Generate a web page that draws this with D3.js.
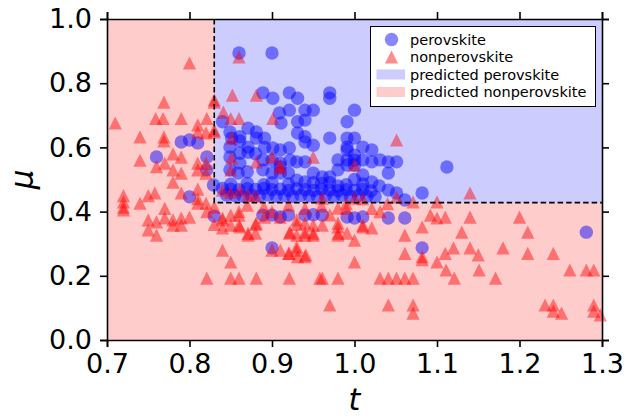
<!DOCTYPE html>
<html><head><meta charset="utf-8">
<script src="https://cdn.jsdelivr.net/npm/d3@7"></script>
<style>body{margin:0;background:#fff}svg{display:block}text{font-family:"DejaVu Sans",sans-serif}</style>
</head><body><svg id="c" width="626" height="418"></svg>
<script>
const xTicks = [0.7, 0.8, 0.9, 1.0, 1.1, 1.2, 1.3];
const yTicks = [0.0, 0.2, 0.4, 0.6, 0.8, 1.0];
const boundaryT = 0.83, boundaryMu = 0.428;
const legendLabels = ["perovskite", "nonperovskite", "predicted perovskite", "predicted nonperovskite"];

const perovskite = [
[0.860,0.894],[0.900,0.894],
[0.889,0.770],[0.901,0.753],[0.921,0.770],[0.931,0.753],[0.921,0.716],[0.940,0.716],[0.950,0.716],[0.909,0.707],
[0.911,0.676],[0.931,0.680],[0.940,0.685],[0.931,0.645],[0.940,0.633],[0.940,0.617],
[0.970,0.770],[0.970,0.753],[1.000,0.716],[0.991,0.680],[0.970,0.629],[0.991,0.629],[1.000,0.629],[0.991,0.601],[1.010,0.601],[1.021,0.592],[0.950,0.607],
[0.840,0.680],[0.849,0.648],[0.851,0.629],[0.861,0.633],[0.871,0.660],[0.881,0.648],[0.881,0.629],[0.891,0.629],[0.861,0.620],[0.871,0.601],[0.891,0.600],[0.901,0.598],[0.910,0.592],[0.921,0.598],
[0.849,0.601],[0.861,0.582],[0.871,0.585],[0.880,0.580],[0.849,0.570],[0.861,0.551],[0.889,0.561],[0.900,0.560],[0.922,0.560],[0.930,0.555],[0.940,0.555],[0.910,0.551],[0.910,0.539],
[0.849,0.530],[0.859,0.520],[0.870,0.524],[0.889,0.530],[0.900,0.520],[0.910,0.520],[0.920,0.520],[0.930,0.498],[0.940,0.492],[0.950,0.520],[0.950,0.490],[0.961,0.508],[0.970,0.508],
[0.980,0.561],[0.991,0.561],[1.000,0.560],[1.010,0.561],[1.021,0.555],[1.031,0.561],[1.041,0.555],[1.051,0.555],[0.991,0.592],[1.000,0.576],[0.991,0.545],[1.000,0.545],[1.010,0.514],[1.021,0.492],[1.041,0.520],[1.041,0.467],[1.051,0.458],[1.082,0.458],[1.112,0.539],[1.061,0.436],
[0.980,0.530],[0.970,0.490],[0.980,0.480],[1.000,0.500],[1.030,0.480],
[0.840,0.472],[0.850,0.470],[0.860,0.468],[0.870,0.471],[0.880,0.469],[0.890,0.472],[0.900,0.468],[0.910,0.470],[0.920,0.466],[0.930,0.471],[0.940,0.468],[0.950,0.466],[0.960,0.470],[0.970,0.467],[0.980,0.465],[0.990,0.468],[1.000,0.466],[1.010,0.469],[1.020,0.464],
[0.845,0.452],[0.855,0.450],[0.865,0.448],[0.875,0.451],[0.885,0.449],[0.895,0.452],[0.905,0.448],[0.915,0.450],[0.925,0.447],[0.935,0.451],[0.945,0.449],[0.955,0.447],[0.965,0.450],[0.975,0.448],[0.985,0.451],[0.995,0.447],[1.005,0.450],[1.015,0.448],[1.025,0.446],
[0.850,0.485],[0.870,0.488],[0.890,0.484],[0.900,0.490],[0.920,0.486],[0.960,0.488],[0.990,0.484],[1.010,0.486],
[0.760,0.570],[0.790,0.617],[0.800,0.623],[0.810,0.614],[0.821,0.570],[0.821,0.530],[0.829,0.483],[0.800,0.446],
[0.830,0.386],[0.889,0.389],[0.900,0.389],[0.910,0.383],[0.920,0.389],[0.940,0.389],[0.950,0.390],[0.900,0.287],[0.961,0.389],[0.991,0.383],[1.000,0.380],[1.010,0.383],[1.041,0.380],[1.061,0.380],[1.082,0.287],[1.281,0.336]
];

const nonperovskite = [
[0.710,0.676],[0.800,0.863],[0.769,0.741],[0.759,0.690],[0.768,0.690],[0.790,0.690],[0.821,0.690],[0.810,0.670],
[0.740,0.633],[0.769,0.633],[0.769,0.620],[0.740,0.560],[0.780,0.580],[0.790,0.570],[0.810,0.648],[0.820,0.645],[0.830,0.648],[0.830,0.741],
[0.841,0.710],[0.852,0.763],[0.850,0.690],[0.860,0.690],[0.881,0.763],[0.901,0.690],[0.860,0.882],
[0.760,0.540],[0.770,0.551],[0.780,0.530],[0.790,0.520],[0.780,0.492],[0.810,0.551],[0.810,0.530],[0.820,0.550],[0.820,0.520],[0.790,0.458],[0.758,0.458],[0.750,0.450],[0.720,0.450],[0.720,0.430],[0.810,0.470],[0.810,0.440],
[0.720,0.414],[0.720,0.405],[0.740,0.426],[0.750,0.374],[0.750,0.343],[0.760,0.327],[0.760,0.368],[0.770,0.380],[0.780,0.374],[0.790,0.380],[0.800,0.383],[0.770,0.410],[0.780,0.358],[0.790,0.358],[0.810,0.426],[0.820,0.426],[0.821,0.400],
[0.840,0.374],[0.840,0.349],[0.850,0.389],[0.850,0.358],[0.860,0.389],[0.860,0.358],[0.871,0.333],[0.880,0.333],[0.881,0.364],[0.840,0.280],[0.850,0.243],[0.821,0.193],[0.850,0.193],[0.860,0.193],[0.881,0.193],[0.921,0.193],
[0.900,0.280],[0.910,0.280],[0.921,0.270],[0.930,0.280],[0.931,0.260],[0.941,0.265],[0.910,0.383],[0.921,0.333],[0.930,0.327],[0.940,0.327],[0.950,0.333],[0.958,0.193],[0.930,0.374],[0.940,0.364],
[0.861,0.352],[0.871,0.327],[0.880,0.360],[0.891,0.383],[0.922,0.336],[0.930,0.360],[0.940,0.336],[0.920,0.270],[0.930,0.290],[0.830,0.414],[0.830,0.360],[0.840,0.380],
[0.950,0.358],[0.980,0.364],[0.980,0.333],[0.991,0.333],[1.000,0.311],[1.010,0.358],[1.021,0.349],[1.031,0.400],[0.970,0.390],[0.940,0.260],[0.961,0.193],[0.980,0.193],[0.970,0.109],[1.000,0.243],[1.031,0.193],[1.041,0.193],[1.051,0.193],[1.061,0.193],[1.071,0.193],[1.041,0.109],[1.071,0.109],[1.071,0.084],[1.061,0.327],[1.061,0.270],[1.082,0.352],[1.082,0.260],[1.082,0.250],[1.092,0.389],[1.100,0.380],[1.100,0.243],[1.110,0.383],[1.110,0.270],[1.111,0.218],[1.120,0.287],[1.121,0.193],[1.130,0.336],[1.140,0.383],[1.140,0.287],[1.150,0.265],[1.151,0.218],[1.171,0.193],[1.180,0.287],[1.200,0.383],[1.210,0.336],[1.210,0.270],[1.241,0.270],[1.261,0.218],[1.231,0.109],[1.241,0.109],[1.241,0.090],[1.251,0.084],[1.281,0.218],[1.290,0.218],[1.290,0.109],[1.290,0.090],[1.298,0.078],
[0.961,0.442],[1.000,0.442],[1.010,0.440],[1.051,0.445],[0.980,0.411],[0.990,0.410],[1.021,0.410],[0.950,0.327],[0.961,0.358],[0.980,0.352],[0.980,0.327],[1.010,0.352],
[0.950,0.570],[1.000,0.545],[1.051,0.623],[1.140,0.458],[1.071,0.430],[1.100,0.430],[0.910,0.545],[0.881,0.555],[0.900,0.570],[0.851,0.567],[0.830,0.654],[0.830,0.748],[0.851,0.629],[0.840,0.467],[0.850,0.460],[0.861,0.467],[0.871,0.452],[0.880,0.450],[0.850,0.530],[0.910,0.536],[0.860,0.400],[0.900,0.400],[0.940,0.410],
[0.870,0.420],[0.890,0.415],[0.920,0.420],[0.960,0.418],[0.990,0.425],[1.040,0.425]
];

const svg = d3.select("#c");
const L = 107, R = 602, T = 19, B = 340;
const x = d3.scaleLinear().domain([0.7, 1.3]).range([L, R]);
const y = d3.scaleLinear().domain([0, 1]).range([B, T]);

const blueBg = "#ccccff", redBg = "#ffcccc";
const ptBlue = "rgba(0,0,255,0.47)", ptRed = "rgba(255,0,0,0.45)";
const rC = 6.7, hT = 6.6;

svg.append("rect").attr("x", x(0.7)).attr("y", y(1)).attr("width", x(1.3) - x(0.7)).attr("height", y(0) - y(1)).attr("fill", redBg);
svg.append("rect").attr("x", x(boundaryT)).attr("y", y(1)).attr("width", x(1.3) - x(boundaryT)).attr("height", y(boundaryMu) - y(1)).attr("fill", blueBg);

const g = svg.append("g");
g.selectAll("circle.p").data(perovskite).enter().append("circle")
  .attr("cx", d => x(d[0])).attr("cy", d => y(d[1])).attr("r", rC).attr("fill", ptBlue);

const triPath = `M0,${-hT}L${hT},${hT}L${-hT},${hT}Z`;
g.selectAll("path.n").data(nonperovskite).enter().append("path")
  .attr("d", triPath).attr("transform", d => `translate(${x(d[0])},${y(d[1])})`).attr("fill", ptRed);

svg.append("path")
  .attr("d", `M${x(boundaryT)},${y(1)}L${x(boundaryT)},${y(boundaryMu)}L${x(1.3)},${y(boundaryMu)}`)
  .attr("fill", "none").attr("stroke", "#000").attr("stroke-width", 1.6).attr("stroke-dasharray", "5.5,3");

const fmt = d3.format(".1f");
const axB = svg.append("g").attr("transform", `translate(0,${B})`).call(d3.axisBottom(x).tickValues(xTicks).tickFormat(fmt).tickSize(7).tickPadding(6));
const axL = svg.append("g").attr("transform", `translate(${L},0)`).call(d3.axisLeft(y).tickValues(yTicks).tickFormat(fmt).tickSize(7).tickPadding(8));
const axT = svg.append("g").attr("transform", `translate(0,${T})`).call(d3.axisTop(x).tickValues(xTicks).tickFormat("").tickSize(7));
const axR = svg.append("g").attr("transform", `translate(${R},0)`).call(d3.axisRight(y).tickValues(yTicks).tickFormat("").tickSize(7));
[axB, axL, axT, axR].forEach(a => {
  a.select(".domain").attr("stroke", "#000").attr("stroke-width", 1.6);
  a.selectAll(".tick line").attr("stroke", "#000").attr("stroke-width", 1.6);
  a.selectAll("text").attr("font-family", "DejaVu Sans").attr("font-size", 27).attr("fill", "#000");
});
axB.selectAll("text").attr("dy", "0.75em");

svg.append("text").attr("x", (L + R) / 2).attr("y", 410).attr("text-anchor", "middle")
  .attr("font-size", 30).attr("font-style", "italic").text("t");
svg.append("text").attr("transform", `translate(33,${(T + B) / 2}) rotate(-90)`).attr("text-anchor", "middle")
  .attr("font-size", 31).attr("font-style", "italic").text("μ");

const lg = svg.append("g");
lg.append("rect").attr("x", 370.5).attr("y", 26.5).attr("width", 225).attr("height", 80).attr("fill", "#fff").attr("stroke", "#000").attr("stroke-width", 1);
const rowY = [39.5, 57, 74.5, 92];
lg.append("circle").attr("cx", 391.5).attr("cy", rowY[0]).attr("r", rC).attr("fill", ptBlue);
lg.append("path").attr("d", triPath).attr("transform", `translate(391.5,${rowY[1]})`).attr("fill", ptRed);
lg.append("rect").attr("x", 376.5).attr("y", rowY[2] - 5).attr("width", 28.5).attr("height", 10).attr("fill", blueBg);
lg.append("rect").attr("x", 376.5).attr("y", rowY[3] - 5).attr("width", 28.5).attr("height", 10).attr("fill", redBg);
lg.selectAll("text.l").data(legendLabels).enter().append("text")
  .attr("x", 410).attr("y", (d, i) => rowY[i]).attr("dy", "0.35em").attr("font-size", 14.5).text(d => d);
</script></body></html>
